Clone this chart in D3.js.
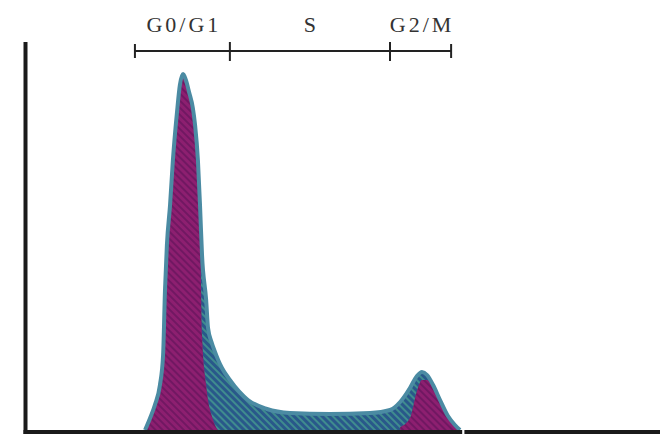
<!DOCTYPE html>
<html>
<head>
<meta charset="utf-8">
<script src="https://cdn.jsdelivr.net/npm/d3@7"></script>
<style>
  body { margin: 0; background: #fff; }
  svg { display: block; }
</style>
</head>
<body>
<svg width="662" height="436"></svg>
<script>
// DNA content channels and fitted cell counts per component
var channels = [37.3, 38.9, 40.4, 42.0, 43.0, 43.6, 44.2, 45.2, 46.1, 47.4, 48.3, 49.3, 50.2, 51.2,
  52.4, 53.1, 54.0, 54.7, 55.3, 56.6, 57.2, 58.3, 59.4, 60.4, 61.6, 64.1, 69.8, 75.8, 83.1, 95.7,
  108.4, 114.7, 117.9, 121.0, 123.2, 124.8, 126.4, 128.3, 130.5, 133.0, 135.2, 136.8];
var g1Counts = [0, 12, 25, 45, 75, 140, 185, 225, 270, 318, 345, 356, 350, 338,
  322, 302, 262, 200, 95, 45, 30, 15, 5, 0, 0, 0, 0, 0, 0, 0,
  0, 0, 0, 0, 0, 0, 0, 0, 0, 0, 0, 0];
var sCounts = [0, 0, 0, 0, 0, 0, 0, 0, 0, 0, 0, 0, 0, 0,
  0, 3, 8, 22, 80, 85, 72, 73, 73, 70, 62, 50, 30, 21, 17, 16,
  17, 20, 25, 30, 15, 8, 5, 3, 1, 0, 0, 0];
var g2Counts = [0, 0, 0, 0, 0, 0, 0, 0, 0, 0, 0, 0, 0, 0,
  0, 0, 0, 0, 0, 0, 0, 0, 0, 0, 0, 0, 0, 0, 0, 0,
  0, 0, 3, 12, 39, 50, 50, 42, 29, 14, 5, 0];

// phase boundaries (channels) and labels for the bracket on top
var phaseEdges = [34.1, 64.1, 114.7, 134.0];
var phaseLabels = ["G0/G1", "S", "G2/M"];

var svg = d3.select("svg");

var x = d3.scaleLinear().domain([0, 200]).range([27, 660]);
var y = d3.scaleLinear().domain([0, 400]).range([430, 30]);

var rows = channels.map(function (c, i) {
  return { ch: c, g1: g1Counts[i], s: sCounts[i], g2: g2Counts[i],
           total: g1Counts[i] + sCounts[i] + g2Counts[i] };
});

// hatch patterns
var defs = svg.append("defs");
var pBlue = defs.append("pattern").attr("id", "hatchBlue")
  .attr("patternUnits", "userSpaceOnUse").attr("width", 5).attr("height", 5)
  .attr("patternTransform", "rotate(-45)");
pBlue.append("rect").attr("width", 5).attr("height", 5).attr("fill", "#29588a");
pBlue.append("rect").attr("width", 2).attr("height", 5).attr("fill", "#3f8c8e");

var pMag = defs.append("pattern").attr("id", "hatchMag")
  .attr("patternUnits", "userSpaceOnUse").attr("width", 5).attr("height", 5)
  .attr("patternTransform", "rotate(-45)");
pMag.append("rect").attr("width", 5).attr("height", 5).attr("fill", "#8d1f70");
pMag.append("rect").attr("width", 2).attr("height", 5).attr("fill", "#711862");

var curve = d3.curveMonotoneX;

var envArea = d3.area().curve(curve)
  .x(function (d) { return x(d.ch); })
  .y0(y(0))
  .y1(function (d) { return y(d.total); });

svg.append("path").datum(rows)
  .attr("d", envArea)
  .attr("fill", "url(#hatchBlue)");

var g1Area = d3.area().curve(curve)
  .x(function (d) { return x(d.ch); })
  .y0(y(0))
  .y1(function (d) { return y(d.g1); });

svg.append("path").datum(rows.filter(function (d) { return d.ch < 62; }))
  .attr("d", g1Area)
  .attr("fill", "url(#hatchMag)");

var g2Area = d3.area().curve(curve)
  .x(function (d) { return x(d.ch); })
  .y0(y(0))
  .y1(function (d) { return y(d.g2); });

svg.append("path").datum(rows.filter(function (d) { return d.ch > 115; }))
  .attr("d", g2Area)
  .attr("fill", "url(#hatchMag)");

// envelope outline
var envLine = d3.line().curve(curve)
  .x(function (d) { return x(d.ch); })
  .y(function (d) { return y(d.total); });

svg.append("path").datum(rows)
  .attr("d", envLine)
  .attr("fill", "none")
  .attr("stroke", "#4b8ba3")
  .attr("stroke-width", 4)
  .attr("stroke-linejoin", "round");

// axes (plain thick lines, no ticks)
svg.append("line")
  .attr("x1", 25.5).attr("x2", 25.5)
  .attr("y1", 42).attr("y2", y(0) + 4)
  .attr("stroke", "#1a1a1a").attr("stroke-width", 4);

svg.append("line")
  .attr("x1", 23.5).attr("x2", x(137.5))
  .attr("y1", y(0) + 2).attr("y2", y(0) + 2)
  .attr("stroke", "#1a1a1a").attr("stroke-width", 4);
svg.append("line")
  .attr("x1", x(138.2)).attr("x2", 660)
  .attr("y1", y(0) + 2).attr("y2", y(0) + 2)
  .attr("stroke", "#1a1a1a").attr("stroke-width", 4);

// phase bracket
var bracketY = 51;
svg.append("line")
  .attr("x1", x(phaseEdges[0])).attr("x2", x(phaseEdges[phaseEdges.length - 1]))
  .attr("y1", bracketY).attr("y2", bracketY)
  .attr("stroke", "#222").attr("stroke-width", 2);

svg.selectAll(".tick").data(phaseEdges).enter().append("line")
  .attr("class", "tick")
  .attr("x1", function (d) { return x(d); })
  .attr("x2", function (d) { return x(d); })
  .attr("y1", function (d, i) { return (i == 0 || i == phaseEdges.length - 1) ? 44 : 42; })
  .attr("y2", function (d, i) { return (i == 0 || i == phaseEdges.length - 1) ? 58 : 61; })
  .attr("stroke", "#222").attr("stroke-width", 2);

svg.selectAll(".plabel").data(phaseLabels).enter().append("text")
  .attr("class", "plabel")
  .attr("x", function (d, i) { return (x(phaseEdges[i]) + x(phaseEdges[i + 1])) / 2 + 1.5; })
  .attr("y", 32)
  .attr("text-anchor", "middle")
  .attr("font-family", "'Liberation Serif', 'DejaVu Serif', serif")
  .attr("font-size", 22)
  .attr("letter-spacing", 3)
  .attr("fill", "#333")
  .text(function (d) { return d; });
</script>
</body>
</html>
